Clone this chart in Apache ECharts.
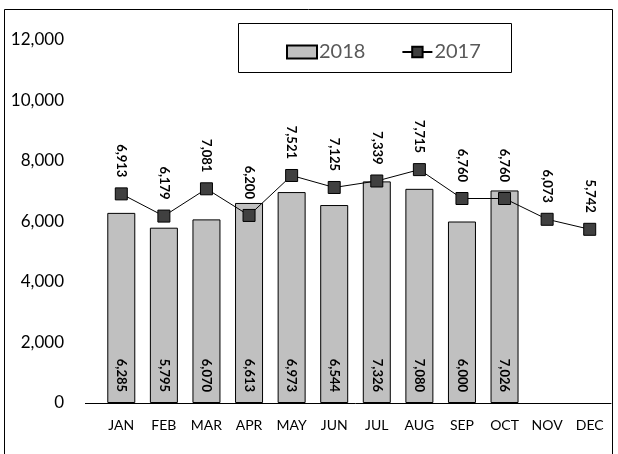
<!DOCTYPE html>
<html>
<head>
<meta charset="utf-8">
<script src="https://cdn.jsdelivr.net/npm/echarts@6/dist/echarts.min.js"></script>
<style>
  html, body { margin: 0; padding: 0; background: #fff; }
  #chart { width: 618px; height: 454px; }
</style>
</head>
<body>
<div id="chart"></div>
<script>
// 月份
var months = ['JAN', 'FEB', 'MAR', 'APR', 'MAY', 'JUN', 'JUL', 'AUG', 'SEP', 'OCT', 'NOV', 'DEC'];
// 2018 (bars)
var sales2018 = [6285, 5795, 6070, 6613, 6973, 6544, 7326, 7080, 6000, 7026, null, null];
// 2017 (line)
var sales2017 = [6913, 6179, 7081, 6200, 7521, 7125, 7339, 7715, 6760, 6760, 6073, 5742];

var font = 'Lato';
var fmt = function (p) {
    return p.value == null ? '' : p.value.toLocaleString('en-US');
};

var chart = echarts.init(document.getElementById('chart'));

chart.setOption({
    animation: false,
    textStyle: { fontFamily: font },
    grid: { left: 100, right: 7, top: 40, bottom: 51 },
    graphic: [
        // outer frame
        { type: 'rect', shape: { x: 4.5, y: 9.5, width: 608, height: 450 },
          style: { fill: 'none', stroke: '#000', lineWidth: 1 }, silent: true },
        // legend frame
        { type: 'rect', shape: { x: 238.5, y: 23.5, width: 273, height: 49 },
          style: { fill: '#fff', stroke: '#000', lineWidth: 1 }, silent: true, z: -1 },
        // axis line runs a bit left of the first bar
        { type: 'line', shape: { x1: 85, y1: 403.5, x2: 101, y2: 403.5 },
          style: { stroke: '#000', lineWidth: 1 }, silent: true }
    ],
    legend: {
        left: 281,
        top: 37,
        itemWidth: 30,
        itemHeight: 13,
        itemGap: 36,
        textStyle: { fontFamily: font, fontSize: 20, color: '#595959', padding: [0, 0, 0, -3] },
        data: [
            { name: '2018', icon: 'rect' },
            { name: '2017' }
        ]
    },
    xAxis: {
        type: 'category',
        data: months,
        axisLine: { lineStyle: { color: '#000', width: 1 } },
        axisTick: { show: false },
        axisLabel: { color: '#000', fontSize: 14, margin: 15, fontFamily: font }
    },
    yAxis: {
        type: 'value',
        min: 0,
        max: 12000,
        interval: 2000,
        splitLine: { show: false },
        axisLine: { show: false },
        axisTick: { show: false },
        axisLabel: {
            color: '#000', fontSize: 17, margin: 36, fontFamily: font,
            formatter: function (v) { return v.toLocaleString('en-US'); }
        }
    },
    series: [
        {
            name: '2018',
            type: 'bar',
            data: sales2018,
            barWidth: 28,
            itemStyle: { color: '#c0c0c0', borderColor: '#000', borderWidth: 1 },
            label: {
                show: true,
                position: 'insideBottom',
                distance: 11,
                rotate: -90,
                align: 'right',
                verticalAlign: 'middle',
                fontFamily: font,
                fontSize: 13,
                fontWeight: 'bold',
                color: '#000',
                formatter: fmt
            }
        },
        {
            name: '2017',
            type: 'line',
            data: sales2017,
            symbol: 'rect',
            symbolSize: 12,
            lineStyle: { color: '#000', width: 1 },
            itemStyle: { color: '#404040', borderColor: '#000', borderWidth: 1 },
            label: {
                show: true,
                position: 'top',
                distance: 10,
                rotate: -90,
                align: 'right',
                verticalAlign: 'middle',
                fontFamily: font,
                fontSize: 13,
                fontWeight: 'bold',
                color: '#000',
                formatter: fmt
            }
        }
    ]
});
</script>
</body>
</html>
